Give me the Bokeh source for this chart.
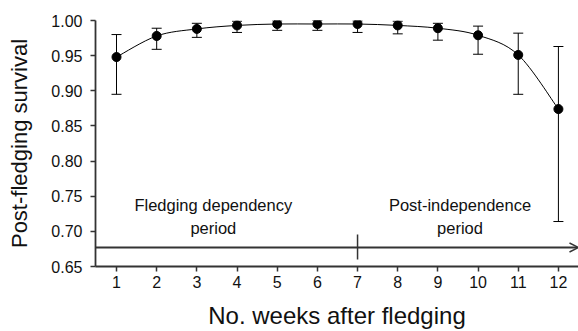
import numpy as np
from bokeh.plotting import figure
from bokeh.models import (ColumnDataSource, Whisker, Arrow, OpenHead, FixedTicker,
                          NumeralTickFormatter, Range1d, Label)
from bokeh.embed import file_html
from bokeh.resources import INLINE

# ---- data ----
weeks = [1, 2, 3, 4, 5, 6, 7, 8, 9, 10, 11, 12]
survival = [0.948, 0.978, 0.988, 0.993, 0.995, 0.995, 0.995, 0.993, 0.989, 0.979, 0.951, 0.874]
ci_upper = [0.980, 0.989, 0.996, 0.999, 0.9995, 1.000, 0.9995, 0.999, 0.996, 0.992, 0.982, 0.963]
ci_lower = [0.895, 0.959, 0.976, 0.983, 0.986, 0.986, 0.983, 0.981, 0.972, 0.952, 0.895, 0.714]
x_ticks = [1, 2, 3, 4, 5, 6, 7, 8, 9, 10, 11, 12]
y_ticks = [0.65, 0.70, 0.75, 0.80, 0.85, 0.90, 0.95, 1.00]
period_labels = ["Fledging dependency\nperiod", "Post-independence\nperiod"]
period_label_x = [3.41, 9.55]
period_split = 7
timeline_y = 0.677

FONT = "Liberation Sans"
AX = "#333333"
X0, X1 = 0.477, 12.5

p = figure(width=578, height=331, output_backend="svg", toolbar_location=None,
           x_range=Range1d(X0, X1), y_range=Range1d(0.65, 1.0),
           min_border_left=95, min_border_right=0, min_border_top=20, min_border_bottom=64)
p.outline_line_color = None
p.grid.visible = False
p.background_fill_color = "white"
p.border_fill_color = "white"

# smooth curve through the points (Catmull-Rom as cubic Bezier)
x = np.array(weeks, dtype=float)
y = np.array(survival, dtype=float)
xp = np.concatenate([[x[0]], x, [x[-1]]])
yp = np.concatenate([[y[0]], y, [y[-1]]])
n = len(x)
bz = dict(x0=[], y0=[], x1=[], y1=[], cx0=[], cy0=[], cx1=[], cy1=[])
for i in range(n - 1):
    a, b, c, d = i, i + 1, i + 2, i + 3
    bz["x0"].append(xp[b]); bz["y0"].append(yp[b])
    bz["x1"].append(xp[c]); bz["y1"].append(yp[c])
    bz["cx0"].append(xp[b] + (xp[c] - xp[a]) / 6); bz["cy0"].append(yp[b] + (yp[c] - yp[a]) / 6)
    bz["cx1"].append(xp[c] - (xp[d] - xp[b]) / 6); bz["cy1"].append(yp[c] - (yp[d] - yp[b]) / 6)
p.bezier(x0="x0", y0="y0", x1="x1", y1="y1", cx0="cx0", cy0="cy0", cx1="cx1", cy1="cy1",
         source=ColumnDataSource(bz), line_color="black", line_width=1)

src = ColumnDataSource(dict(x=weeks, y=survival, upper=ci_upper, lower=ci_lower))
wh = Whisker(base="x", upper="upper", lower="lower", source=src,
             line_color="black", line_width=1)
wh.upper_head.size = 10
wh.lower_head.size = 10
wh.upper_head.line_color = "black"
wh.lower_head.line_color = "black"
p.add_layout(wh)
p.scatter("x", "y", source=src, size=9, color="black")

# timeline arrow with split mark
p.add_layout(Arrow(end=OpenHead(size=9, line_color=AX, line_width=1.5),
                   x_start=X0, y_start=timeline_y, x_end=X1, y_end=timeline_y,
                   line_color=AX, line_width=1.8))
p.segment(x0=[period_split], y0=[0.660], x1=[period_split], y1=[0.6955],
          line_color=AX, line_width=1.5)

for lx, lt in zip(period_label_x, period_labels):
    p.add_layout(Label(x=lx, y=0.7215, text=lt, text_align="center", text_baseline="middle",
                       text_font=FONT, text_font_size="16.5px", text_color="#111111",
                       text_line_height=1.3))

# axes
for ax in (p.xaxis[0], p.yaxis[0]):
    ax.axis_line_color = AX
    ax.axis_line_width = 1.8
    ax.major_tick_line_color = AX
    ax.major_tick_line_width = 1.5
    ax.major_tick_out = 5
    ax.major_tick_in = 0
    ax.minor_tick_line_color = None
    ax.major_label_text_font = FONT
    ax.major_label_text_font_size = "16px"
    ax.major_label_text_color = "#111111"
    ax.axis_label_text_font = FONT
    ax.axis_label_text_font_style = "normal"
    ax.axis_label_text_color = "#111111"

p.xaxis.axis_label_text_font_size = "24px"
p.yaxis.axis_label_text_font_size = "22px"
p.xaxis.ticker = FixedTicker(ticks=x_ticks)
p.yaxis.ticker = FixedTicker(ticks=y_ticks)
p.yaxis.formatter = NumeralTickFormatter(format="0.00")
p.xaxis.axis_label = "No. weeks after fledging"
p.yaxis.axis_label = "Post-fledging survival"
p.xaxis.major_label_standoff = 4
p.yaxis.major_label_standoff = 8
p.xaxis.axis_label_standoff = 11
p.yaxis.axis_label_standoff = 16

open("out.html", "w").write(file_html(p, INLINE))
